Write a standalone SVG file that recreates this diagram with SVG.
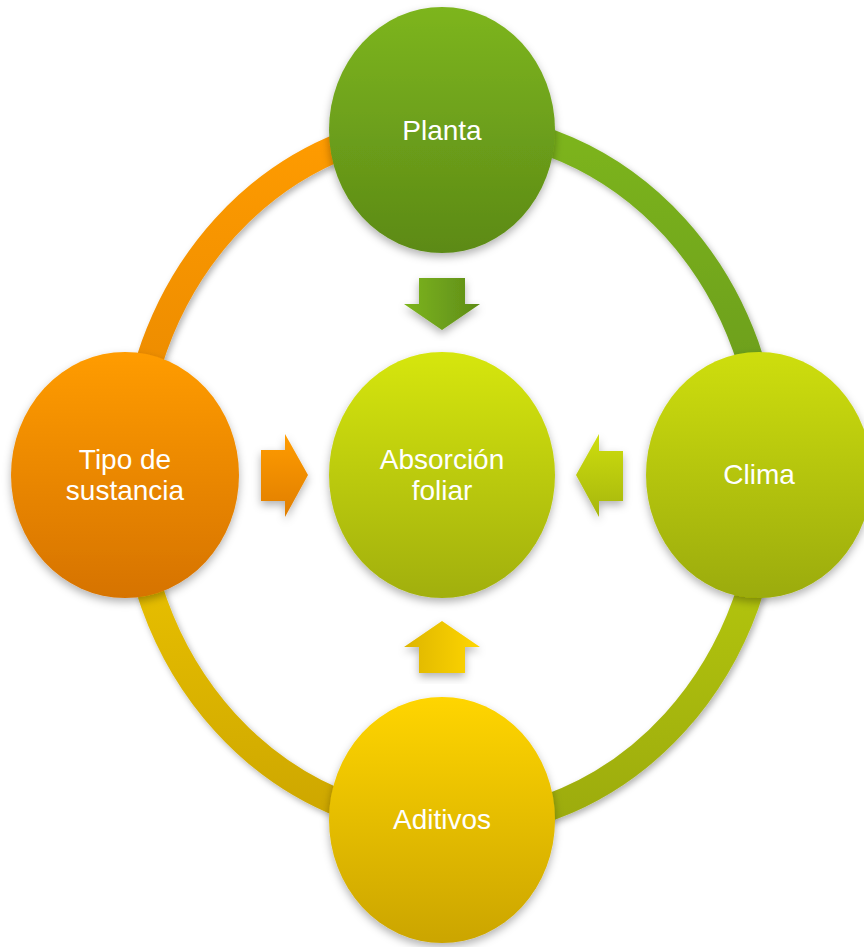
<svg xmlns="http://www.w3.org/2000/svg" width="864" height="947" viewBox="0 0 864 947">
  <defs>
    <filter id="shadow" x="-20%" y="-20%" width="140%" height="140%">
      <feDropShadow dx="0" dy="4" stdDeviation="4" flood-color="#000" flood-opacity="0.3"/>
    </filter>
    <filter id="ringShadow" x="-10%" y="-10%" width="120%" height="120%">
      <feDropShadow dx="2" dy="3" stdDeviation="3" flood-color="#000" flood-opacity="0.3"/>
    </filter>
    <linearGradient id="gPlanta" x1="0" y1="0" x2="0" y2="1">
      <stop offset="0" stop-color="#7DB51F"/>
      <stop offset="1" stop-color="#5C8A16"/>
    </linearGradient>
    <linearGradient id="gClima" x1="0" y1="0" x2="0" y2="1">
      <stop offset="0" stop-color="#CEDE0B"/>
      <stop offset="1" stop-color="#9BAB07"/>
    </linearGradient>
    <linearGradient id="gCenter" x1="0" y1="0" x2="0" y2="1">
      <stop offset="0" stop-color="#D6E60A"/>
      <stop offset="1" stop-color="#A1AF09"/>
    </linearGradient>
    <linearGradient id="gTipo" x1="0" y1="0" x2="0" y2="1">
      <stop offset="0" stop-color="#FF9C05"/>
      <stop offset="1" stop-color="#D67300"/>
    </linearGradient>
    <linearGradient id="gAditivos" x1="0" y1="0" x2="0" y2="1">
      <stop offset="0" stop-color="#FFD500"/>
      <stop offset="1" stop-color="#CBA500"/>
    </linearGradient>
    <linearGradient id="rTL" x1="0" y1="0" x2="0" y2="1">
      <stop offset="0" stop-color="#FF9C05"/>
      <stop offset="1" stop-color="#E68600"/>
    </linearGradient>
    <linearGradient id="rTR" x1="0" y1="0" x2="0" y2="1">
      <stop offset="0" stop-color="#7DB51F"/>
      <stop offset="1" stop-color="#66961A"/>
    </linearGradient>
    <linearGradient id="rBR" x1="0" y1="0" x2="0" y2="1">
      <stop offset="0" stop-color="#BCCF0C"/>
      <stop offset="1" stop-color="#9CAB09"/>
    </linearGradient>
    <linearGradient id="rBL" x1="0" y1="0" x2="0" y2="1">
      <stop offset="0" stop-color="#F3C900"/>
      <stop offset="1" stop-color="#CCA600"/>
    </linearGradient>
    <linearGradient id="aDown" x1="0" y1="0" x2="1" y2="0">
      <stop offset="0" stop-color="#7DB51F"/>
      <stop offset="1" stop-color="#5E8C17"/>
    </linearGradient>
    <linearGradient id="aRight" x1="0" y1="0" x2="0" y2="1">
      <stop offset="0" stop-color="#FF9C05"/>
      <stop offset="1" stop-color="#E07E00"/>
    </linearGradient>
    <linearGradient id="aLeft" x1="0" y1="0" x2="0" y2="1">
      <stop offset="0" stop-color="#CEDE0B"/>
      <stop offset="1" stop-color="#A6B608"/>
    </linearGradient>
    <linearGradient id="aUp" x1="0" y1="0" x2="1" y2="0">
      <stop offset="0" stop-color="#DDB500"/>
      <stop offset="1" stop-color="#FFD600"/>
    </linearGradient>
    <style>
      .lbl { font-family: "Liberation Sans", Arial, sans-serif; font-size: 28px; fill: #FFFFFF; text-anchor: middle; }
      .ring { fill: none; stroke-width: 27; }
      .node { filter: url(#shadow); }
      .arrow { filter: url(#shadow); }
    </style>
  </defs>

  <g id="connectors">
    <g id="ring" filter="url(#ringShadow)">
      <path class="ring" stroke="url(#rTL)" d="M 132 475 A 318 350 0 0 1 450 125"/>
      <path class="ring" stroke="url(#rTR)" d="M 450 125 A 318 350 0 0 1 768 475"/>
      <path class="ring" stroke="url(#rBR)" d="M 768 475 A 318 350 0 0 1 450 825"/>
      <path class="ring" stroke="url(#rBL)" d="M 450 825 A 318 350 0 0 1 132 475"/>
    </g>
    <polygon id="arrow-planta" class="arrow" fill="url(#aDown)" points="419,278 465,278 465,304 480,304 442,330 404,304 419,304"/>
    <polygon id="arrow-tipo" class="arrow" fill="url(#aRight)" points="261,450 285,450 285,434 308,475 285,517 285,501 261,501"/>
    <polygon id="arrow-clima" class="arrow" fill="url(#aLeft)" points="623,451 599,451 599,434 576,475 599,517 599,501 623,501"/>
    <polygon id="arrow-aditivos" class="arrow" fill="url(#aUp)" points="442,621 480,647 465,647 465,673 419,673 419,647 404,647"/>
  </g>

  <g id="node-planta">
    <ellipse class="node" cx="442" cy="130" rx="113" ry="123" fill="url(#gPlanta)"/>
    <text class="lbl" x="442" y="140">Planta</text>
  </g>

  <g id="node-tipo">
    <ellipse class="node" cx="125" cy="475" rx="114" ry="123" fill="url(#gTipo)"/>
    <text class="lbl" x="125" y="469">Tipo de</text>
    <text class="lbl" x="125" y="500">sustancia</text>
  </g>

  <g id="node-clima">
    <ellipse class="node" cx="759" cy="475" rx="113" ry="123" fill="url(#gClima)"/>
    <text class="lbl" x="759" y="484">Clima</text>
  </g>

  <g id="node-aditivos">
    <ellipse class="node" cx="442" cy="820" rx="113" ry="123" fill="url(#gAditivos)"/>
    <text class="lbl" x="442" y="829">Aditivos</text>
  </g>

  <g id="node-absorcion">
    <ellipse class="node" cx="442" cy="475" rx="113" ry="123" fill="url(#gCenter)"/>
    <text class="lbl" x="442" y="469">Absorción</text>
    <text class="lbl" x="442" y="500">foliar</text>
  </g>
</svg>
